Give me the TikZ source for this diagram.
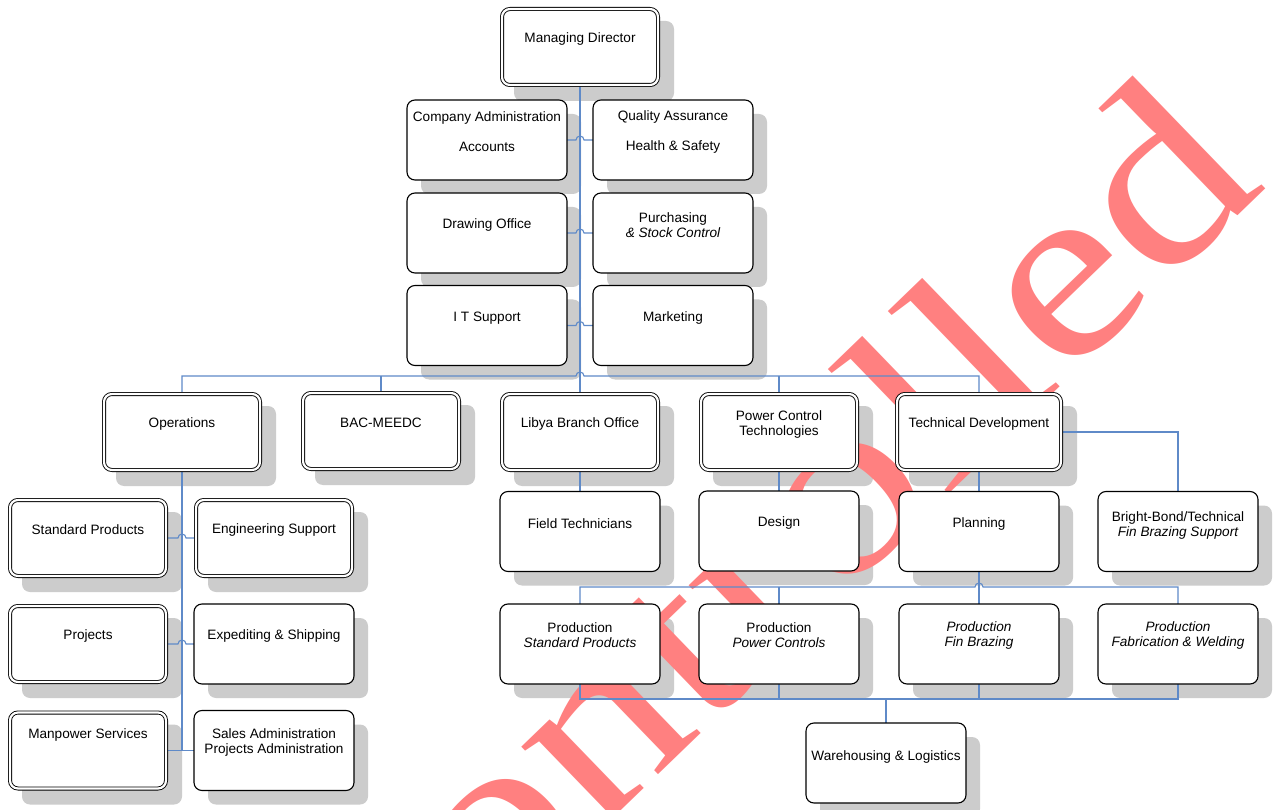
\documentclass[tikz,border=0pt]{standalone}
\usepackage{fontspec}
\setmainfont{Liberation Sans}
\newfontfamily\wmfamily[FakeStretch=1.2]{Liberation Serif}
\usetikzlibrary{calc}
\pgfdeclarelayer{shadowlayer}
\pgfdeclarelayer{marklayer}
\pgfdeclarelayer{linelayer}
\pgfsetlayers{shadowlayer,marklayer,linelayer,main}
\definecolor{conncol}{HTML}{5F8AC8}
\definecolor{wmcol}{HTML}{FF8080}
\definecolor{shadowcol}{HTML}{CCCCCC}
\begin{document}
\begin{tikzpicture}[x=1pt,y=-1pt,
  box/.style={draw=black, line width=1.1pt, rounded corners=8pt, fill=white,
    minimum width=160pt, minimum height=80pt, inner sep=0pt, outer sep=0pt},
  dbox/.style={box, line width=0.9pt, double=white, double distance=2.2pt,
    minimum width=156pt, minimum height=76pt},
  lbl/.style={font=\fontsize{13.6}{15}\selectfont, align=center, inner sep=0pt},
  conn/.style={draw=conncol, line width=1.1pt},
  wmark/.style={rotate=44, anchor=base east, inner sep=0pt, text=wmcol,
    font=\wmfamily\fontsize{250}{250}\selectfont}
]
\useasboundingbox (0,0) rectangle (1277,810);
% boxes
\node[dbox] (md) at (580,47) {};
\node[box] (ca) at (487,140) {};
\node[box] (qa) at (673,140) {};
\node[box] (do) at (487,233) {};
\node[box] (pur) at (673,233) {};
\node[box] (it) at (487,325.5) {};
\node[box] (mkt) at (673,325.5) {};
\node[dbox] (ops) at (182,432) {};
\node[dbox] (bac) at (381,431) {};
\node[dbox] (lib) at (580,432) {};
\node[dbox] (pct) at (779,432) {};
\node[dbox, minimum width=164pt] (td) at (979,432) {};
\node[box] (ft) at (580,531.5) {};
\node[box] (des) at (779,531) {};
\node[box] (plan) at (979,531.5) {};
\node[box] (bb) at (1178,531.5) {};
\node[box] (pstd) at (580,644) {};
\node[box] (ppc) at (779,644) {};
\node[box] (pfb) at (979,644) {};
\node[box] (pfab) at (1178,644) {};
\node[dbox] (sp) at (88,538) {};
\node[dbox] (es) at (274,538) {};
\node[dbox] (pj) at (88,644) {};
\node[box] (ex) at (274,644) {};
\node[dbox] (mp) at (88,750.5) {};
\node[box] (sa) at (274,750.5) {};
\node[box] (wh) at (886,763) {};
% labels
\node[lbl] (mdL) at ($(md.center)+(0,-8)$) {Managing Director};
\node[lbl] (caL) at ($(ca.center)+(0,-8)$) {Company Administration\\[15pt]Accounts};
\node[lbl] (qaL) at ($(qa.center)+(0,-8)$) {Quality Assurance\\[15pt]Health \& Safety};
\node[lbl] (doL) at ($(do.center)+(0,-8)$) {Drawing Office};
\node[lbl] (purL) at ($(pur.center)+(0,-8)$) {Purchasing\\\itshape \& Stock Control};
\node[lbl] (itL) at ($(it.center)+(0,-7.5)$) {I T Support};
\node[lbl] (mktL) at ($(mkt.center)+(0,-7.5)$) {Marketing};
\node[lbl] (opsL) at ($(ops.center)+(0,-8)$) {Operations};
\node[lbl] (bacL) at ($(bac.center)+(0,-8)$) {BAC-MEEDC};
\node[lbl] (libL) at ($(lib.center)+(0,-8)$) {Libya Branch Office};
\node[lbl] (pctL) at ($(pct.center)+(0,-8)$) {Power Control\\Technologies};
\node[lbl] (tdL) at ($(td.center)+(0,-8)$) {Technical Development};
\node[lbl] (ftL) at ($(ft.center)+(0,-8)$) {Field Technicians};
\node[lbl] (desL) at ($(des.center)+(0,-8)$) {Design};
\node[lbl] (planL) at ($(plan.center)+(0,-8)$) {Planning};
\node[lbl] (bbL) at ($(bb.center)+(0,-6.5)$) {Bright-Bond/Technical\\\itshape Fin Brazing Support};
\node[lbl] (pstdL) at ($(pstd.center)+(0,-8.5)$) {Production\\\itshape Standard Products};
\node[lbl] (ppcL) at ($(ppc.center)+(0,-8.5)$) {Production\\\itshape Power Controls};
\node[lbl, font=\fontsize{13.6}{15}\selectfont\itshape] (pfbL) at ($(pfb.center)+(0,-8.5)$) {Production\\Fin Brazing};
\node[lbl, font=\fontsize{13.6}{15}\selectfont\itshape] (pfabL) at ($(pfab.center)+(0,-8.5)$) {Production\\Fabrication \& Welding};
\node[lbl] (spL) at ($(sp.center)+(0,-8)$) {Standard Products};
\node[lbl] (esL) at ($(es.center)+(0,-8)$) {Engineering Support};
\node[lbl] (pjL) at ($(pj.center)+(0,-8)$) {Projects};
\node[lbl] (exL) at ($(ex.center)+(0,-8)$) {Expediting \& Shipping};
\node[lbl] (mpL) at ($(mp.center)+(0,-16)$) {Manpower Services};
\node[lbl] (saL) at ($(sa.center)+(0,-8.5)$) {Sales Administration\\Projects Administration};
\node[lbl] (whL) at ($(wh.center)+(0,-6)$) {Warehousing \& Logistics};
% shadows
\begin{pgfonlayer}{shadowlayer}
\fill[white] (0,0) rectangle (1277,810);
\foreach \n in {ca,qa,do,pur,it,mkt,ft,des,plan,bb,pstd,ppc,pfb,pfab,ex,sa,wh}
  \fill[shadowcol, rounded corners=8pt] ($(\n.north west)+(14,14)$) rectangle ($(\n.south east)+(14,14)$);
\foreach \n in {md,ops,bac,lib,pct,td,sp,es,pj,mp}
  \fill[shadowcol, rounded corners=8pt] ($(\n.north west)+(12,12)$) rectangle ($(\n.south east)+(16,16)$);
\end{pgfonlayer}
% watermark
\begin{pgfonlayer}{marklayer}
\node[wmark] (wm) at (1268,186) {Uncontrolled};
\end{pgfonlayer}
% connectors
\begin{pgfonlayer}{linelayer}
\coordinate (busy) at (0,376);
\coordinate (bus2) at (0,587);
\coordinate (bus3) at (0,699);
\draw[conn] (md.south) -- (lib.north);
\draw[conn] (ca.east) -- ($(ca.east -| md.south)+(-4,0)$) arc[start angle=180,end angle=0,radius=4pt] -- (qa.west);
\draw[conn] (do.east) -- ($(do.east -| md.south)+(-4,0)$) arc[start angle=180,end angle=0,radius=4pt] -- (pur.west);
\draw[conn] (it.east) -- ($(it.east -| md.south)+(-4,0)$) arc[start angle=180,end angle=0,radius=4pt] -- (mkt.west);
\draw[conn] (ops.north) -- (ops.north |- busy) -- ($(md.south |- busy)+(-4,0)$) arc[start angle=180,end angle=0,radius=4pt] -- (td.north |- busy) -- (td.north);
\draw[conn] (bac.north) -- (bac.north |- busy);
\draw[conn] (pct.north) -- (pct.north |- busy);
\draw[conn] (ops.south) -- (ops.south |- mp.east);
\draw[conn] (mp.east) -- (sa.west);
\draw[conn] (sp.east) -- ($(sp.east -| ops.south)+(-4,0)$) arc[start angle=180,end angle=0,radius=4pt] -- (es.west);
\draw[conn] (pj.east) -- ($(pj.east -| ops.south)+(-4,0)$) arc[start angle=180,end angle=0,radius=4pt] -- (ex.west);
\draw[conn] (lib.south) -- (ft.north);
\draw[conn] (pct.south) -- (des.north);
\draw[conn] (td.south) -- (plan.north);
\draw[conn] (plan.south) -- (pfb.north);
\draw[conn] (td.east) -| (bb.north);
\draw[conn] (pstd.north) -- (pstd.north |- bus2) -- ($(plan.south |- bus2)+(-4,0)$) arc[start angle=180,end angle=0,radius=4pt] -- (pfab.north |- bus2) -- (pfab.north);
\draw[conn] (ppc.north) -- (ppc.north |- bus2);
\draw[conn] (pstd.south) -- (pstd.south |- bus3) -- (pfab.south |- bus3) -- (pfab.south);
\draw[conn] (ppc.south) -- (ppc.south |- bus3);
\draw[conn] (pfb.south) -- (pfb.south |- bus3);
\draw[conn] (wh.north) -- (wh.north |- bus3);
\end{pgfonlayer}
\end{tikzpicture}
\end{document}
